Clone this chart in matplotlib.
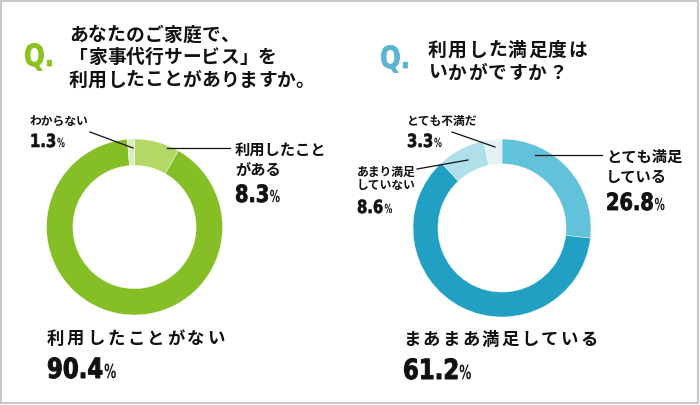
import matplotlib.pyplot as plt
import matplotlib.transforms as mtransforms
from matplotlib.patches import Rectangle, PathPatch
from matplotlib.textpath import TextPath
from matplotlib.font_manager import FontProperties

plt.rcParams['font.family'] = ['Noto Sans CJK JP', 'DejaVu Sans']

# Q1: 家事代行サービスの利用経験
q1_labels = ['利用したことがある', '利用したことがない', 'わからない']
q1_values = [8.3, 90.4, 1.3]
q1_colors = ['#b3d865', '#86bf25', '#dcecc1']

# Q2: 満足度
q2_labels = ['とても満足している', 'まあまあ満足している', 'あまり満足していない', 'とても不満だ']
q2_values = [26.8, 61.2, 8.6, 3.3]
q2_colors = ['#62c2d9', '#22a0c4', '#afdfe9', '#e6f1f4']

W, H = 700, 405
INK = '#111111'
fig = plt.figure(figsize=(W / 100, H / 100), dpi=100)


def donut(cx, cy, r, values, colors, width):
    ax = fig.add_axes([(cx - r) / W, (H - cy - r) / H, 2 * r / W, 2 * r / H])
    ax.pie(values, colors=colors, startangle=90, counterclock=False,
           wedgeprops=dict(width=width, edgecolor='white', linewidth=0.3))
    ax.set_xlim(-1, 1)
    ax.set_ylim(-1, 1)
    ax.set_aspect('auto')
    ax.axis('off')


donut(134.5, 227, 88, q1_values, q1_colors, 0.3)
donut(502, 228, 89, q2_values, q2_colors, 0.28)

# overlay axes in pixel coordinates for text, above the donuts
ov = fig.add_axes([0, 0, 1, 1])
ov.set_zorder(10)
ov.set_xlim(0, W)
ov.set_ylim(H, 0)
ov.axis('off')
ov.add_patch(Rectangle((0.5, 0.5), W - 2.5, H - 2.5, fill=False, ec='#c8c8c8', lw=1.5))

BOLD = FontProperties(family='DejaVu Sans', weight='bold')
PX = 100 / 72


def cond_text(x, y, s, size, sx=0.7, color=INK, lw=0.0):
    # horizontally squeezed text drawn as a path, baseline at y
    path = TextPath((0, 0), s, size=size, prop=BOLD)
    tr = mtransforms.Affine2D().scale(sx * PX, -PX).translate(x, y) + ov.transData
    ov.add_patch(PathPatch(path, transform=tr, fc=color,
                           ec=color if lw else 'none', lw=lw))
    return x + path.get_extents().x1 * sx * PX


def pct(x, y, value, size):
    x1 = cond_text(x, y, f'{value:.1f}', size, sx=0.82, lw=size / 28)
    cond_text(x1 + 2, y, '%', size * 0.7, sx=0.62)


def lines(x, y, rows, size, pitch):
    for i, s in enumerate(rows):
        ov.text(x, y + i * pitch, s, fontsize=size, fontweight='bold',
                va='center', ha='left', color=INK)


def spaced(x, y, rows, size, step, pitch=0):
    for i, s in enumerate(rows):
        for j, ch in enumerate(s):
            ov.text(x + j * step, y + i * pitch, ch, fontsize=size, fontweight='bold',
                    va='center', ha='left', color=INK)


def leader(x0, y0, x1, y1):
    ov.plot([x0, x1], [y0, y1], color=INK, lw=0.9)


# titles
cond_text(24, 66, 'Q.', 22, sx=0.8, color='#8cc21f', lw=0.6)
spaced(69, 35, ['あなたのご家庭で、', '「家事代行サービス」を', '利用したことがありますか。'], 13.5, 18.9, 22.5)
cond_text(380, 68, 'Q.', 22, sx=0.8, color='#5ab4d3', lw=0.6)
spaced(428, 50, ['利用した満足度は', 'いかがですか？'], 13.5, 20, 23)

# Q1 labels
lines(30, 121, ['わからない'], 8.5, 0)
pct(30, 147, q1_values[2], 13)
leader(90, 132, 133, 148)

lines(235, 150, ['利用したこと', 'がある'], 11, 20)
pct(235, 202, q1_values[0], 17)
leader(167, 148, 230, 148)

spaced(47, 339, [q1_labels[1]], 12.5, 20)
pct(47, 378, q1_values[1], 20)

# Q2 labels
lines(407, 121, ['とても不満だ'], 8.5, 0)
pct(407, 147, q2_values[3], 13)
leader(452, 132, 495, 147)

lines(357, 172, ['あまり満足', 'していない'], 8.5, 14)
pct(357, 213, q2_values[2], 13)
leader(417, 169, 468, 160)

lines(606, 157, ['とても満足', 'している'], 11, 20)
pct(606, 210, q2_values[0], 17)
leader(535, 155, 602, 155)

spaced(403, 340, [q2_labels[1]], 12.5, 19.7)
pct(403, 379, q2_values[1], 20)

fig.savefig('out.png', dpi=100)
